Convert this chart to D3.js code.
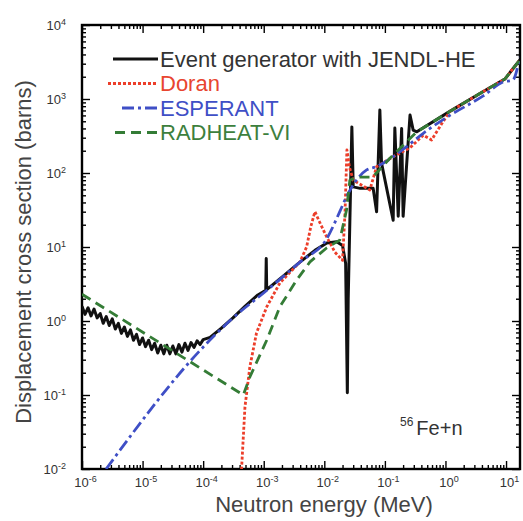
<!DOCTYPE html>
<html>
<head>
<meta charset="utf-8">
<script src="https://cdn.jsdelivr.net/npm/d3@7"></script>
<style>
  body { margin: 0; background: #fff; }
  svg { display: block; font-family: "Liberation Sans", Arial, sans-serif; }
  .frame { fill: none; stroke: #000; stroke-width: 2.4; }
  .axis path { display: none; }
  .axis line { stroke: #000; stroke-width: 1.4; }
  .axis text { font-size: 13px; fill: #333; font-family: "Liberation Sans", Arial, sans-serif; }
  .axis-title { font-size: 22px; fill: #444; }
  .series { fill: none; }
</style>
</head>
<body>
<svg width="523" height="521"></svg>
<script>
(function (d3) {
    'use strict';

    // tick decades
    const xExponents = [-6, -5, -4, -3, -2, -1, 0, 1];
    const yExponents = [-2, -1, 0, 1, 2, 3, 4];

    // [energy MeV, cross section barns]
    const eventGenerator = [
      [1.00e-6, 1.58], [1.12e-6, 1.23], [1.26e-6, 1.51], [1.41e-6, 1.17], [1.58e-6, 1.45],
      [1.78e-6, 1.10], [2.00e-6, 1.26], [2.24e-6, 0.93], [2.51e-6, 1.15], [2.82e-6, 0.87],
      [3.16e-6, 1.07], [3.55e-6, 0.78], [3.98e-6, 0.93], [4.47e-6, 0.68], [5.01e-6, 0.83],
      [5.62e-6, 0.62], [6.31e-6, 0.76], [7.08e-6, 0.55], [7.94e-6, 0.66], [8.91e-6, 0.48],
      [1.00e-5, 0.59], [1.12e-5, 0.45], [1.26e-5, 0.55], [1.41e-5, 0.41], [1.58e-5, 0.50],
      [1.78e-5, 0.37], [2.00e-5, 0.47], [2.24e-5, 0.36], [2.51e-5, 0.47], [2.82e-5, 0.36],
      [3.16e-5, 0.46], [3.55e-5, 0.36], [3.98e-5, 0.48], [4.47e-5, 0.38], [5.01e-5, 0.50],
      [5.62e-5, 0.40], [6.31e-5, 0.51], [7.08e-5, 0.44], [7.94e-5, 0.54], [8.91e-5, 0.48],
      [1.00e-4, 0.56], [1.3e-4, 0.60], [2.0e-4, 0.80], [3.1e-4, 1.1], [5.0e-4, 1.6],
      [8.0e-4, 2.25], [1.08e-3, 2.6], [1.10e-3, 7.0], [1.12e-3, 2.65], [2.0e-3, 3.9],
      [4.0e-3, 6.3], [7.0e-3, 9.0], [1.1e-2, 11.3], [1.6e-2, 11.8], [2.0e-2, 10.5],
      [2.25e-2, 6.0], [2.4e-2, 0.107], [2.48e-2, 2.0], [2.85e-2, 420], [3.0e-2, 65],
      [3.9e-2, 62], [6.4e-2, 62], [7.3e-2, 30], [8.26e-2, 710], [8.8e-2, 136],
      [0.137, 23], [0.146, 405], [0.166, 26], [0.189, 400], [0.20, 26],
      [0.26, 608], [0.293, 380], [0.337, 360], [1.18, 680], [4.14, 1250],
      [9.55, 1860], [16.9, 3370]
    ];

    const doran = [
      [4.3e-4, 0.0098], [4.9e-4, 0.069], [5.9e-4, 0.24], [7.6e-4, 0.69], [1.12e-3, 1.55],
      [1.85e-3, 3.27], [3.95e-3, 6.27], [5.1e-3, 10], [6.0e-3, 19], [7.0e-3, 30],
      [8.3e-3, 22], [1.09e-2, 13.8], [1.5e-2, 8.5], [2.0e-2, 6.6], [2.2e-2, 30],
      [2.36e-2, 205], [2.6e-2, 120], [3.0e-2, 80], [5.65e-2, 59], [7.3e-2, 122],
      [0.137, 166], [0.259, 219], [0.43, 324], [0.59, 279], [0.906, 490],
      [1.18, 680], [4.14, 1250], [9.55, 1860], [16.9, 3370]
    ];

    const esperant = [
      [2.5e-6, 0.01], [1.15e-4, 0.5], [3.1e-4, 1.1], [1.13e-3, 2.6], [4.0e-3, 6.3],
      [1.1e-2, 13], [1.8e-2, 30], [2.33e-2, 48], [5.0e-2, 110], [7.3e-2, 122],
      [0.137, 166], [0.228, 227], [0.43, 344], [1.18, 600], [4.2, 1100],
      [9.0, 1700], [12.9, 1800], [16.9, 3700]
    ];

    const radheat = [
      [1.0e-6, 2.3], [4.6e-4, 0.1], [5.9e-4, 0.175], [1.12e-3, 0.55], [1.85e-3, 1.56],
      [3.5e-3, 3.58], [5.8e-3, 6.3], [1.09e-2, 9.7], [1.8e-2, 12.4], [2.33e-2, 31.6],
      [2.64e-2, 80], [3.45e-2, 88], [6.3e-2, 88], [0.121, 158], [0.337, 360],
      [1.18, 680], [4.14, 1250], [9.55, 1860], [16.9, 3370]
    ];

    const legendLabels = ['Event generator with JENDL-HE', 'Doran', 'ESPERANT', 'RADHEAT-VI'];

    const STYLES = [
      { data: eventGenerator, color: '#111', text: '#333', dash: null, width: 3, start: 113 },
      { data: doran, color: '#ec3e2a', text: '#e8452f', dash: '3,2', width: 2.8, start: 108 },
      { data: esperant, color: '#3f4fc6', text: '#3f4fc6', dash: '12,4,3,4', width: 2.8, start: 122 },
      { data: radheat, color: '#347c36', text: '#3d7f3d', dash: '10,6', width: 2.8, start: 115 }
    ];

    const M = { left: 82, right: 520, top: 25, bottom: 469 };
    const svg = d3.select('svg');

    const x = d3.scaleLog().domain([1e-6, 17]).range([M.left, M.right]);
    const y = d3.scaleLog().domain([1e-2, 1e4]).range([M.bottom, M.top]);

    const minorOf = exps => exps.flatMap(e => d3.range(2, 10).map(m => m * Math.pow(10, e)));
    const xMinor = minorOf(xExponents).filter(v => v < 17);
    const yMinor = minorOf(yExponents).filter(v => v < 1e4);
    const xMajor = xExponents.map(e => Math.pow(10, e));
    const yMajor = yExponents.map(e => Math.pow(10, e));

    svg.append('defs').append('clipPath').attr('id', 'plot-clip')
      .append('rect')
      .attr('x', M.left).attr('y', M.top)
      .attr('width', M.right - M.left).attr('height', M.bottom - M.top);

    // inward ticks on all four sides
    const axes = svg.append('g');
    const addAxis = (axis, tx, ty) =>
      axes.append('g').attr('class', 'axis')
        .attr('transform', `translate(${tx},${ty})`)
        .call(axis.tickSizeOuter(0));

    addAxis(d3.axisBottom(x).tickValues(xMinor).tickSize(-4).tickFormat(''), 0, M.bottom);
    addAxis(d3.axisTop(x).tickValues(xMinor).tickSize(-4).tickFormat(''), 0, M.top);
    addAxis(d3.axisLeft(y).tickValues(yMinor).tickSize(-4).tickFormat(''), M.left, 0);
    addAxis(d3.axisRight(y).tickValues(yMinor).tickSize(-4).tickFormat(''), M.right, 0);
    addAxis(d3.axisTop(x).tickValues(xMajor).tickSize(-8).tickFormat(''), 0, M.top);
    addAxis(d3.axisRight(y).tickValues(yMajor).tickSize(-8).tickFormat(''), M.right, 0);

    const supLabel = function (d) {
      const e = Math.round(Math.log10(d));
      const t = d3.select(this).text('10');
      t.append('tspan').attr('dy', '-0.55em').attr('font-size', '9px').text(e);
    };

    addAxis(d3.axisBottom(x).tickValues(xMajor).tickSize(-8).tickPadding(9), 0, M.bottom)
      .selectAll('.tick text')
      .attr('dx', 3)
      .each(supLabel);

    addAxis(d3.axisLeft(y).tickValues(yMajor).tickSize(-8).tickPadding(16), M.left, 0)
      .selectAll('.tick text')
      .each(supLabel);

    svg.append('rect').attr('class', 'frame')
      .attr('x', M.left).attr('y', M.top)
      .attr('width', M.right - M.left).attr('height', M.bottom - M.top);

    // series
    const line = d3.line()
      .x(d => x(d[0]))
      .y(d => y(d[1]));

    const plot = svg.append('g').attr('clip-path', 'url(#plot-clip)');
    plot.selectAll('path.series')
      .data(STYLES)
      .enter()
      .append('path')
      .attr('class', 'series')
      .attr('d', d => (d.data === esperant ? line.curve(d3.curveMonotoneX) : line.curve(d3.curveLinear))(d.data))
      .attr('stroke', d => d.color)
      .attr('stroke-width', d => d.width)
      .attr('stroke-linejoin', 'round')
      .attr('stroke-dasharray', d => d.dash);

    // legend
    const legendG = svg.append('g');
    const rows = legendG.selectAll('g')
      .data(STYLES)
      .enter()
      .append('g')
      .attr('transform', (d, i) => `translate(0, ${59 + i * 24.5})`);

    rows.append('line')
      .attr('x1', d => d.start).attr('x2', 158)
      .attr('stroke', d => d.color)
      .attr('stroke-width', 2.8)
      .attr('stroke-dasharray', d => d.dash);

    rows.append('text')
      .attr('x', 160)
      .attr('dy', '0.36em')
      .attr('font-size', '22px')
      .attr('fill', d => d.text)
      .text((d, i) => legendLabels[i]);

    // axis titles
    svg.append('text').attr('class', 'axis-title')
      .attr('x', 324).attr('y', 512)
      .attr('text-anchor', 'middle')
      .text('Neutron energy (MeV)');

    svg.append('text').attr('class', 'axis-title')
      .attr('transform', 'translate(31,252) rotate(-90)')
      .attr('text-anchor', 'middle')
      .text('Displacement cross section (barns)');

    // reaction label
    const note = svg.append('text')
      .attr('x', 400).attr('y', 435)
      .attr('fill', '#333');
    note.append('tspan').attr('font-size', '12px').attr('dy', -9).text('56');
    note.append('tspan').attr('font-size', '20px').attr('dx', 3).attr('dy', 9).text('Fe+n');

}(d3));
</script>
</body>
</html>
